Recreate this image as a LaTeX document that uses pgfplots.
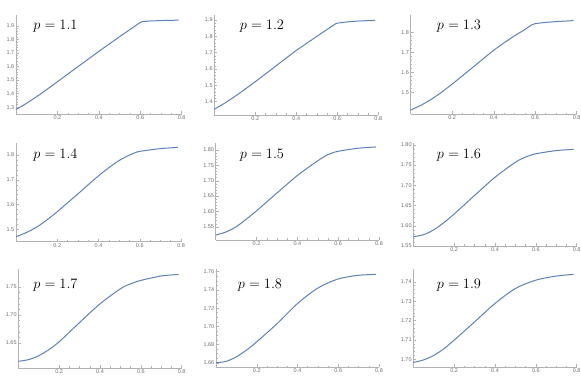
\documentclass[border=0pt]{standalone}
\usepackage[no-math]{fontspec}
\setsansfont{Liberation Sans}
\usepackage{pgfplots}
\pgfplotsset{compat=1.18}

\definecolor{mmablue}{RGB}{94,129,181}
\definecolor{axgray}{RGB}{178,178,178}
\definecolor{lblgray}{RGB}{110,110,110}

\pgfplotsset{
  panel/.style={
    scale only axis,
    anchor=south west,
    axis x line*=bottom,
    axis y line*=left,
    axis line style={axgray, line width=0.5pt},
    tick style={axgray, line width=0.4pt},
    tick align=inside,
    major tick length=3pt,
    minor tick length=1.6pt,
    xmin=0, xmax=0.8,
    xtick={0.2,0.4,0.6,0.8},
    minor x tick num=3,
    ticklabel style={font=\fontsize{5.5}{6}\selectfont\sffamily, text=lblgray, inner sep=1.5pt},
    /pgf/number format/assume math mode=true,
    xticklabel style={/pgf/number format/fixed, /pgf/number format/precision=1},
  },
  p1/.style={yticklabel style={/pgf/number format/fixed, /pgf/number format/precision=1, /pgf/number format/fixed zerofill}},
  p2/.style={yticklabel style={/pgf/number format/fixed, /pgf/number format/precision=2, /pgf/number format/fixed zerofill}},
  curve/.style={mmablue, line width=1pt, no marks},
}

\begin{document}
\begin{tikzpicture}[x=1pt,y=1pt]
\useasboundingbox (0,0) rectangle (581,385);

% p = 1.1
\begin{axis}[panel, p1, at={(16pt,270.7pt)}, width=165.7pt, height=99.3pt,
  ymin=1.248, ymax=1.98, ytick={1.3,1.4,1.5,1.6,1.7,1.8,1.9}, minor y tick num=4]
\addplot[curve] coordinates {(0,1.283) (0.05,1.328) (0.1,1.378) (0.15,1.432) (0.2,1.488) (0.3,1.600) (0.4,1.712) (0.5,1.820) (0.6,1.925) (0.612,1.932) (0.65,1.936) (0.7,1.939) (0.785,1.942)};
\end{axis}

% p = 1.2
\begin{axis}[panel, p1, at={(214.3pt,270pt)}, width=164pt, height=100pt,
  ymin=1.318, ymax=1.931, ytick={1.4,1.5,1.6,1.7,1.8,1.9}, minor y tick num=4]
\addplot[curve] coordinates {(0,1.353) (0.05,1.390) (0.1,1.431) (0.15,1.476) (0.2,1.522) (0.3,1.618) (0.4,1.714) (0.5,1.800) (0.595,1.880) (0.65,1.889) (0.7,1.894) (0.785,1.898)};
\end{axis}

% p = 1.3
\begin{axis}[panel, p1, at={(410.7pt,270.7pt)}, width=166pt, height=99.3pt,
  ymin=1.392, ymax=1.888, ytick={1.5,1.6,1.7,1.8}, minor y tick num=4]
\addplot[curve] coordinates {(0,1.413) (0.05,1.437) (0.1,1.467) (0.15,1.503) (0.2,1.543) (0.25,1.585) (0.3,1.627) (0.35,1.670) (0.4,1.712) (0.45,1.749) (0.5,1.784) (0.55,1.815) (0.582,1.838) (0.6,1.845) (0.65,1.851) (0.7,1.855) (0.75,1.858) (0.785,1.860)};
\end{axis}

% p = 1.4
\begin{axis}[panel, p1, at={(16pt,143.3pt)}, width=165pt, height=99pt,
  ymin=1.45, ymax=1.85, ytick={1.5,1.6,1.7,1.8}, minor y tick num=4]
\addplot[curve, smooth] coordinates {(0,1.470) (0.05,1.487) (0.1,1.509) (0.15,1.538) (0.2,1.571) (0.25,1.607) (0.3,1.643) (0.35,1.680) (0.4,1.716) (0.45,1.749) (0.5,1.778) (0.55,1.800) (0.57,1.807) (0.6,1.815) (0.7,1.826) (0.785,1.831)};
\end{axis}

% p = 1.5
\begin{axis}[panel, p2, at={(215.7pt,145pt)}, width=163.3pt, height=96.7pt,
  ymin=1.507, ymax=1.822, ytick={1.55,1.60,1.65,1.70,1.75,1.80}, minor y tick num=4]
\addplot[curve, smooth] coordinates {(0,1.523) (0.05,1.533) (0.1,1.550) (0.15,1.575) (0.2,1.602) (0.3,1.660) (0.4,1.717) (0.5,1.765) (0.55,1.785) (0.6,1.796) (0.7,1.806) (0.785,1.810)};
\end{axis}

% p = 1.6
\begin{axis}[panel, p2, at={(413.3pt,139pt)}, width=163.4pt, height=102.7pt,
  ymin=1.55, ymax=1.804, ytick={1.55,1.60,1.65,1.70,1.75,1.80}, minor y tick num=4]
\addplot[curve, smooth] coordinates {(0,1.573) (0.05,1.578) (0.1,1.590) (0.15,1.608) (0.2,1.629) (0.3,1.675) (0.4,1.720) (0.5,1.757) (0.55,1.770) (0.6,1.778) (0.7,1.786) (0.785,1.789)};
\end{axis}

% p = 1.7
\begin{axis}[panel, p2, at={(18.3pt,17pt)}, width=163.4pt, height=99.3pt,
  ymin=1.605, ymax=1.783, ytick={1.65,1.70,1.75}, minor y tick num=4]
\addplot[curve, smooth] coordinates {(0,1.617) (0.05,1.620) (0.1,1.627) (0.15,1.638) (0.2,1.652) (0.3,1.6865) (0.4,1.720) (0.5,1.747) (0.55,1.756) (0.6,1.762) (0.7,1.770) (0.785,1.7726)};
\end{axis}

% p = 1.8
\begin{axis}[panel, p2, at={(216pt,17.7pt)}, width=163pt, height=98pt,
  ymin=1.655, ymax=1.7626, ytick={1.66,1.68,1.70,1.72,1.74,1.76}, minor y tick num=3]
\addplot[curve, smooth] coordinates {(0,1.660) (0.05,1.6615) (0.1,1.6665) (0.15,1.674) (0.2,1.683) (0.3,1.703) (0.4,1.725) (0.5,1.742) (0.6,1.752) (0.7,1.756) (0.785,1.757)};
\end{axis}

% p = 1.9
\begin{axis}[panel, p2, at={(413.3pt,17.7pt)}, width=163.4pt, height=98pt,
  ymin=1.6959, ymax=1.7464, ytick={1.70,1.71,1.72,1.73,1.74}, minor y tick num=4]
\addplot[curve, smooth] coordinates {(0,1.6984) (0.05,1.6997) (0.1,1.7020) (0.15,1.7055) (0.2,1.7099) (0.3,1.7193) (0.4,1.7288) (0.5,1.7365) (0.6,1.7408) (0.7,1.7429) (0.785,1.7438)};
\end{axis}

% panel labels
\begin{scope}[every node/.style={font=\fontsize{14}{16}\selectfont, inner sep=0pt}]
\node at (55.5,358.5) {$p = 1.1$};
\node at (262,358.3) {$p = 1.2$};
\node at (459,358.3) {$p = 1.3$};
\node at (55.5,230) {$p = 1.4$};
\node at (262,230) {$p = 1.5$};
\node at (459,230) {$p = 1.6$};
\node at (55.5,100) {$p = 1.7$};
\node at (260,100) {$p = 1.8$};
\node at (459,100) {$p = 1.9$};
\end{scope}
\end{tikzpicture}
\end{document}
